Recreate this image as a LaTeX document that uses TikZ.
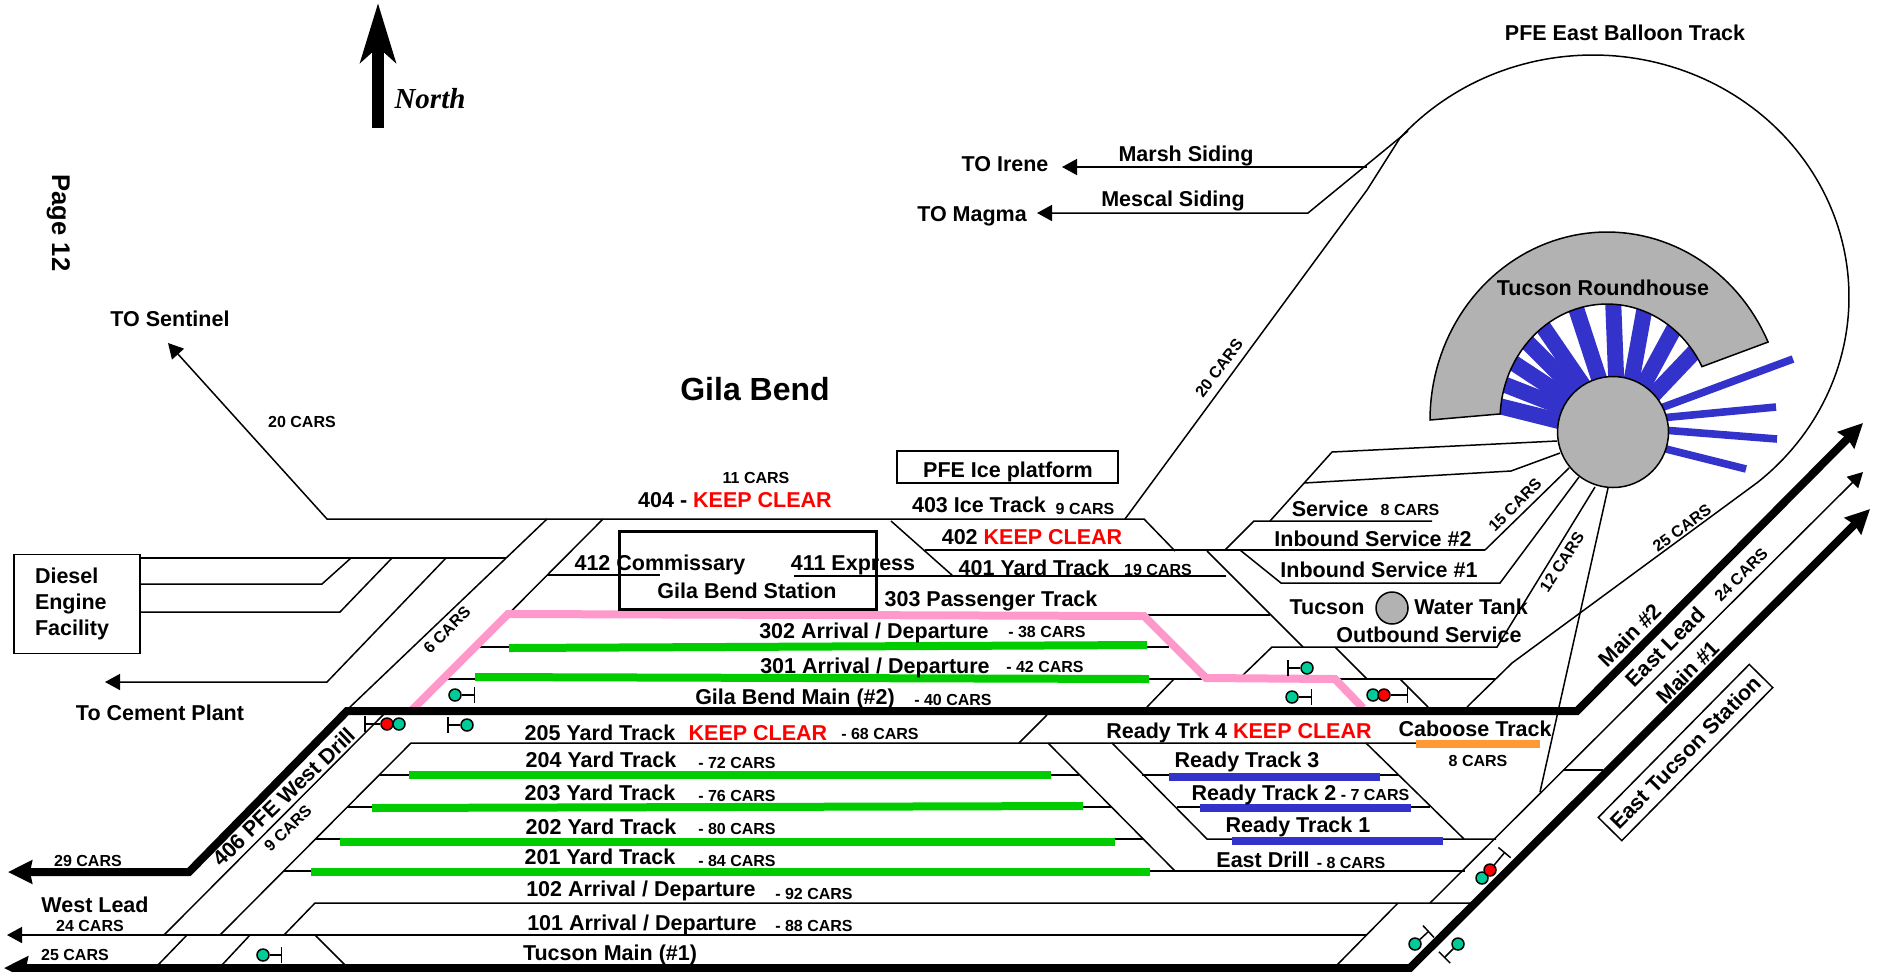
\documentclass[tikz,border=0pt]{standalone}
\usepackage{fontspec}
\setmainfont{Liberation Sans}
\newfontfamily\northfont{Liberation Serif}
\usepackage{tikz}
\usetikzlibrary{arrows.meta}
\definecolor{yardgreen}{HTML}{00CC00}
\definecolor{readyblue}{HTML}{3333CC}
\definecolor{pftpink}{HTML}{FF99CC}
\definecolor{cabooseorange}{HTML}{FF9933}
\definecolor{housegray}{HTML}{B2B2B2}
\definecolor{lampgreen}{HTML}{00CC99}
\tikzset{
  trk/.style={line width=.75pt},
  heavy/.style={line width=4pt},
  yard/.style={line width=4pt,yardgreen},
  ready/.style={line width=4pt,readyblue},
  ray/.style={line width=8pt,readyblue},
  stall/.style={line width=3.8pt,readyblue},
  thintip/.style={-{Triangle[length=7.5pt,width=8pt]}},
  lbl/.style={font=\bfseries\fontsize{10.75}{13}\selectfont,anchor=base,inner sep=0pt},
  cars/.style={font=\bfseries\fontsize{8}{10}\selectfont,anchor=base,inner sep=0pt},
  lampg/.style={circle,draw,line width=.75pt,fill=lampgreen,minimum size=6pt,inner sep=0pt},
  lampr/.style={circle,draw,line width=.75pt,fill=red,minimum size=6pt,inner sep=0pt},
  mast/.style={line width=.75pt,-{Bar[width=8pt]}},
}

\begin{document}
\begin{tikzpicture}[x=0.5pt,y=-0.5pt]
\useasboundingbox (0,0) rectangle (1877,971);
% --- north arrow and page mark
\coordinate (nfoot) at (378,128); \coordinate (ntip) at (378,3);
\draw[line width=6pt,-{Stealth[length=29.5pt,width=17.5pt,inset=7.5pt]}] (nfoot) -- (ntip);
\node[anchor=base,inner sep=0pt,font=\northfont\bfseries\itshape\fontsize{14.5}{16}\selectfont] (north) at (430,108) {North};
\node[lbl,font=\bfseries\fontsize{12.8}{15}\selectfont,rotate=-90] (page) at (52,223) {Page 12};
% --- roundhouse: stalls first, house and turntable on top
\draw[ray] (1495,405) -- (1575,425); \draw[ray] (1498,382) -- (1605,424);
\draw[ray] (1506,358) -- (1600,420); \draw[ray] (1522,337) -- (1600,415);
\draw[ray] (1539,321) -- (1600,410); \draw[ray] (1574,302) -- (1606,400);
\draw[ray] (1613,298) -- (1617,400); \draw[ray] (1645,306) -- (1628,400);
\draw[ray] (1676,325) -- (1636,399); \draw[ray] (1698,348) -- (1640,409);
\draw[stall] (1793,359) -- (1650,412); \draw[stall] (1776,407) -- (1650,419);
\draw[stall] (1777,439) -- (1650,429); \draw[stall] (1746,469) -- (1650,445);
\draw[trk,fill=housegray] plot[domain=180:24.5,samples=70] ({1607+177*cos(\x)},{420-188*sin(\x)}) -- plot[domain=27.4:177,samples=50] ({1607+107*cos(\x)},{420-116*sin(\x)}) -- cycle;
% --- balloon and the lines running off it
\draw[trk] (1125,519) -- (1367,190) -- plot[domain=139:-50,samples=120] ({1593+256*cos(\x)},{297-242*sin(\x)}) -- (1512,663) -- (1467,707);
\draw[trk,thintip] (1367,167) -- (1062,167);
\draw[trk,thintip] (1408,131) -- (1308,213) -- (1037,213);
% --- 400 series, west end
\draw[trk,thintip] (1175,551) -- (1144,519) -- (327,519) -- (168,343);
\draw[trk] (547,519) -- (349,708); \draw[trk] (603,519) -- (412,711);
\draw[trk] (139,558) -- (506,558);
\draw[trk] (139,584) -- (322,584) -- (351,558); \draw[trk] (139,612) -- (340,612) -- (392,558);
\draw[trk,thintip] (446,558) -- (327,682) -- (105,682);
\draw[trk] (891,521) -- (953,576); \draw[trk] (925,550) -- (1485,550);
\draw[trk] (547,575) -- (660,575); \draw[trk] (794,576) -- (1226,576);
% --- service tracks to the turntable
\draw[trk] (1207,551) -- (1303,647); \draw[trk] (1240,550) -- (1281,583) -- (1500,583) -- (1579,477);
\draw[trk] (1225,550) -- (1254,521) -- (1432,521); \draw[trk] (1270,521) -- (1332,452) -- (1557,441);
\draw[trk] (1304,483) -- (1511,471) -- (1560,453);
\draw[trk] (1485,550) -- (1569,468); \draw[trk] (1242,676) -- (1272,647) -- (1497,647) -- (1595,487);
\draw[trk] (1608,488) -- (1540,792);
% --- arrival and departure tracks
\draw[trk] (508,615) -- (1270,615); \draw[trk] (480,647) -- (1169,647); \draw[trk] (447,679) -- (1495,679);
\draw[trk] (1335,647) -- (1367,679); \draw[trk] (1400,679) -- (1428,707); \draw[trk] (1174,679) -- (1147,707);
\draw[yard] (509,648) -- (1147,645); \draw[yard] (475,677) -- (1149,679);
\draw[line width=4pt,pftpink] (412,710) -- (508,614) -- (1144,616) -- (1206,678) -- (1335,679) -- (1363,708);
% --- yard throat and yard tracks
\draw[trk] (385,713) -- (164,935); \draw[trk] (1047,715) -- (1019,743);
\draw[trk] (220,935) -- (411,743) -- (1416,743);
\draw[trk] (380,775) -- (1079,775); \draw[trk] (347,807) -- (1111,807);
\draw[trk] (315,839) -- (1143,839); \draw[trk] (284,871) -- (1465,871);
\draw[trk] (1142,775) -- (1399,775); \draw[trk] (1177,807) -- (1430,807); \draw[trk] (1112,743) -- (1207,839) -- (1496,839);
\draw[trk] (1048,743) -- (1175,871); \draw[trk] (1366,743) -- (1464,839);
\draw[yard] (409,775) -- (1051,775); \draw[yard] (372,808) -- (1083,806);
\draw[yard] (340,842) -- (1115,842); \draw[yard] (311,872) -- (1150,872);
\draw[ready] (1169,777) -- (1380,777); \draw[ready] (1200,808) -- (1411,808); \draw[ready] (1232,841) -- (1443,841);
\draw[line width=4pt,cabooseorange] (1416,744) -- (1540,744);
% --- leads and mains
\draw[trk] (284,935) -- (315,903) -- (1472,903);
\draw[trk,thintip] (1366,935) -- (7,935);
\draw[trk] (1398,903) -- (1337,965);
\draw[trk] (187,935) -- (158,965); \draw[trk] (250,935) -- (222,965); \draw[trk] (315,935) -- (345,965);
\draw[trk,thintip] (1430,903) -- (1863,472);
\draw[trk] (1563,770) -- (1603,770);
\draw[heavy,{Stealth[length=12pt,width=11.5pt,inset=1pt]}-{Stealth[length=12pt,width=11.5pt,inset=1pt]}] (8,872) -- (189,872) -- (347,711) -- (1577,711) -- (1863,423);
\draw[heavy,{Stealth[length=12pt,width=11.5pt,inset=1pt]}-{Stealth[length=12pt,width=11.5pt,inset=1pt]}] (4,968) -- (1410,968) -- (1870,509);
% --- boxes and water tank
\node[draw,trk,align=left,minimum width=63pt,minimum height=49.5pt,text width=42pt,inner xsep=10.5pt,inner ysep=0pt,yshift=.5pt,font=\bfseries\fontsize{10.75}{13}\selectfont] (diesel) at (77,605) {Diesel\\Engine\\Facility};
\node[draw,line width=1.5pt,minimum width=128.5pt,minimum height=39pt] (station) at (747.5,570) {};
\node[draw,trk,minimum width=110.5pt,minimum height=16pt,inner sep=0pt] (iceplat) at (1007.5,467) {};
\node[lbl] (icetext) at (1008,477) {PFE Ice platform};
\node[draw,trk,rotate=45.4,font=\bfseries\fontsize{10.75}{13}\selectfont,minimum width=107.5pt,minimum height=16.5pt,inner sep=0pt] (etucson) at (1685.5,752.5) {East Tucson Station};
\node[circle,draw,trk,fill=housegray,minimum size=16pt,inner sep=0pt] (watertank) at (1392,608) {};
\node[circle,draw,trk,fill=housegray,minimum size=55.5pt,inner sep=0pt] (turntable) at (1613,432) {};
% --- labels, top of the picture
\node[lbl] (balloon) at (1625,40) {PFE East Balloon Track};
\node[lbl] (roundhouse) at (1603,295) {Tucson Roundhouse};
\node[lbl] (marsh) at (1186,161) {Marsh Siding};
\node[lbl] (mescal) at (1173,206) {Mescal Siding};
\node[lbl] (irene) at (1005,171) {TO Irene};
\node[lbl] (magma) at (972,221) {TO Magma};
\node[lbl] (sentinel) at (170,326) {TO Sentinel};
\node[cars] (carsA) at (302,427) {20 CARS};
\node[cars,anchor=center,rotate=53] (carsB) at (1219,368) {20 CARS};
\node[anchor=base,inner sep=0pt,font=\bfseries\fontsize{16}{18}\selectfont] (gila) at (755,400) {Gila Bend};
\node[cars] (carsC) at (756,483) {11 CARS};
\node[lbl] (t404) at (735,507) {404 - \textcolor{red}{KEEP CLEAR}};
\node[lbl] (t403) at (979,512) {403 Ice Track};
\node[cars] (carsD) at (1085,514) {9 CARS};
\node[lbl] (t402) at (1032,544) {402 \textcolor{red}{KEEP CLEAR}};
\node[lbl] (t401) at (1034,575) {401 Yard Track};
\node[cars] (carsE) at (1158,575) {19 CARS};
\node[lbl] (t412) at (660,570) {412 Commissary};
\node[lbl] (t411) at (853,570) {411 Express};
\node[lbl] (tstation) at (747,598) {Gila Bend Station};
\node[lbl] (t303) at (991,606) {303 Passenger Track};
\node[lbl] (t302) at (874,638) {302 Arrival / Departure};
\node[cars] (carsF) at (1047,637) {- 38 CARS};
\node[lbl] (t301) at (875,673) {301 Arrival / Departure};
\node[cars] (carsG) at (1045,672) {- 42 CARS};
\node[lbl] (tgmain) at (795,704) {Gila Bend Main (\#2)};
\node[cars] (carsH) at (953,705) {- 40 CARS};
% --- labels, yard
\node[lbl] (t205) at (600,740) {205 Yard Track}; \node[lbl,red] (clear205) at (758,740) {KEEP CLEAR};
\node[cars] (carsI) at (880,739) {- 68 CARS};
\node[lbl] (t204) at (601,767) {204 Yard Track}; \node[cars] (carsJ) at (737,768) {- 72 CARS};
\node[lbl] (t203) at (600,800) {203 Yard Track}; \node[cars] (carsK) at (737,801) {- 76 CARS};
\node[lbl] (t202) at (601,834) {202 Yard Track}; \node[cars] (carsL) at (737,834) {- 80 CARS};
\node[lbl] (t201) at (600,864) {201 Yard Track}; \node[cars] (carsM) at (737,866) {- 84 CARS};
\node[lbl] (t102) at (641,896) {102 Arrival / Departure}; \node[cars] (carsN) at (814,899) {- 92 CARS};
\node[lbl] (t101) at (642,930) {101 Arrival / Departure}; \node[cars] (carsO) at (814,931) {- 88 CARS};
\node[lbl] (tmain) at (610,960) {Tucson Main (\#1)};
\node[lbl] (trk4) at (1239,738) {Ready Trk 4 \textcolor{red}{KEEP CLEAR}};
\node[lbl] (caboose) at (1475,736) {Caboose Track}; \node[cars] (carsP) at (1478,766) {8 CARS};
\node[lbl] (ready3) at (1247,767) {Ready Track 3};
\node[lbl] (ready2) at (1264,800) {Ready Track 2}; \node[cars] (carsQ) at (1375,800) {- 7 CARS};
\node[lbl] (ready1) at (1298,832) {Ready Track 1};
\node[lbl] (edrill) at (1263,867) {East Drill}; \node[cars] (carsR) at (1351,868) {- 8 CARS};
% --- labels, west end
\node[lbl] (wlead) at (95,912) {West Lead};
\node[cars] (carsS) at (90,931) {24 CARS};
\node[cars] (carsT) at (75,960) {25 CARS};
\node[cars] (carsU) at (88,866) {29 CARS};
\node[lbl] (cement) at (160,720) {To Cement Plant};
\node[cars,anchor=center,rotate=45] (carsV) at (447,630) {6 CARS};
\node[lbl,anchor=center,rotate=44] (drill) at (284,797) {406 PFE West Drill};
\node[cars,anchor=center,rotate=44] (carsW) at (288,828) {9 CARS};
% --- labels, east end
\node[lbl] (service) at (1330,516) {Service}; \node[cars] (carsX) at (1410,515) {8 CARS};
\node[lbl] (inb2) at (1373,546) {Inbound Service \#2};
\node[lbl] (inb1) at (1379,577) {Inbound Service \#1};
\node[cars,anchor=center,rotate=45] (carsY) at (1515,505) {15 CARS};
\node[cars,anchor=center,rotate=57] (carsZ) at (1562,562) {12 CARS};
\node[cars,anchor=center,rotate=36] (carsAA) at (1682,528) {25 CARS};
\node[cars,anchor=center,rotate=45] (carsAB) at (1741,575) {24 CARS};
\node[lbl] (tucson) at (1327,614) {Tucson}; \node[lbl] (water) at (1471,614) {Water Tank};
\node[lbl] (outb) at (1429,642) {Outbound Service};
\node[lbl,anchor=center,rotate=45] (main2) at (1630,635) {Main \#2};
\node[lbl,anchor=center,rotate=45] (elead) at (1665,647) {East Lead};
\node[lbl,anchor=center,rotate=45] (main1) at (1688,672) {Main \#1};
% --- signals
\node[lampg] (sa) at (455,695) {}; \coordinate (sab) at (475,695); \draw[mast] (sa) -- (sab);
\node[lampr] (sb) at (387,724) {}; \node[lampg] (sbg) at (399,724) {}; \coordinate (sbb) at (364,724); \draw[mast] (sb) -- (sbb);
\node[lampg] (sc) at (467,725) {}; \coordinate (scb) at (447,725); \draw[mast] (sc) -- (scb);
\node[lampg] (sd) at (263,955) {}; \coordinate (sdb) at (282,955); \draw[mast] (sd) -- (sdb);
\node[lampg] (se) at (1307,668) {}; \coordinate (seb) at (1287,668); \draw[mast] (se) -- (seb);
\node[lampg] (sf) at (1292,697) {}; \coordinate (sfb) at (1312,697); \draw[mast] (sf) -- (sfb);
\node[lampg] (sgg) at (1373,695) {}; \node[lampr] (sg) at (1384,695) {}; \coordinate (sgb) at (1408,695); \draw[mast] (sg) -- (sgb);
\node[lampg] (shg) at (1482,878) {}; \node[lampr] (sh) at (1490,870) {}; \coordinate (shb) at (1505,852); \draw[mast] (sh) -- (shb);
\node[lampg] (si) at (1415,944) {}; \coordinate (sib) at (1429,931); \draw[mast] (si) -- (sib);
\node[lampg] (sj) at (1458,944) {}; \coordinate (sjb) at (1444,958); \draw[mast] (sj) -- (sjb);
\end{tikzpicture}
\end{document}
